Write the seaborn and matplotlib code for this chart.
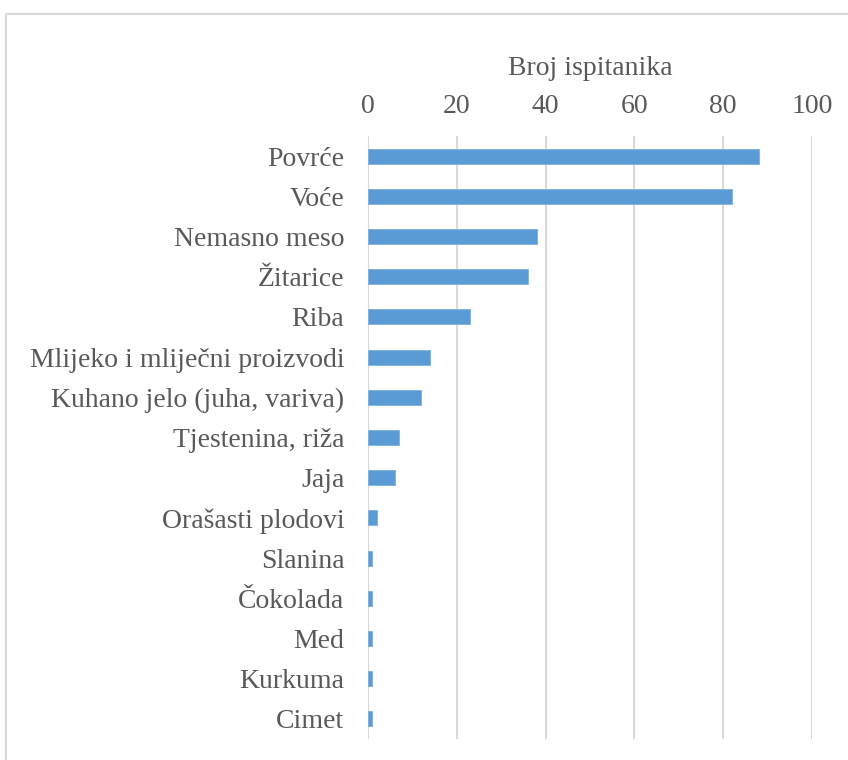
import matplotlib
matplotlib.use("Agg")
import matplotlib.pyplot as plt
import seaborn as sns
import pandas as pd
from matplotlib.patches import Rectangle

# Podaci
kategorije = [
    "Povrće", "Voće", "Nemasno meso", "Žitarice", "Riba",
    "Mlijeko i mliječni proizvodi", "Kuhano jelo (juha, variva)",
    "Tjestenina, riža", "Jaja", "Orašasti plodovi", "Slanina",
    "Čokolada", "Med", "Kurkuma", "Cimet",
]
broj = [88, 82, 38, 36, 23, 14, 12, 7, 6, 2, 1, 1, 1, 1, 1]
x_ticks = [0, 20, 40, 60, 80, 100]

df = pd.DataFrame({"kategorija": kategorije, "broj": broj})

sns.set_theme(style="white")
plt.rcParams["font.family"] = ["Liberation Serif", "DejaVu Serif"]

fig = plt.figure(figsize=(8.48, 7.6), dpi=100)
ax = fig.add_axes([368 / 848, 1 - 739 / 760, (812 - 368) / 848, (739 - 136) / 760])

sns.barplot(data=df, x="broj", y="kategorija", orient="h", color="#5B9BD5",
            width=0.37, saturation=1, ax=ax, zorder=3,
            edgecolor="#7DB0DE", linewidth=0.6)

ax.set_xlim(0, 100)
ax.set_xticks(x_ticks)
ax.xaxis.tick_top()
ax.xaxis.set_label_position("top")
ax.set_xlabel("Broj ispitanika", fontsize=20, color="#595959", labelpad=14)
ax.set_ylabel("")
ax.tick_params(axis="both", length=0, labelsize=20, colors="#595959")
ax.tick_params(axis="x", pad=12)
ax.tick_params(axis="y", pad=17)
ax.grid(axis="x", color="#D9D9D9", linewidth=1.5, zorder=0)
ax.set_axisbelow(True)
for s in ax.spines.values():
    s.set_visible(False)

# okvir grafikona
fig.patches.append(Rectangle((6 / 848, -0.1), 1.0, 1.1 - 14 / 760,
                             transform=fig.transFigure, fill=False,
                             edgecolor="#D9D9D9", linewidth=1.5))

fig.savefig("out.png", dpi=100)
